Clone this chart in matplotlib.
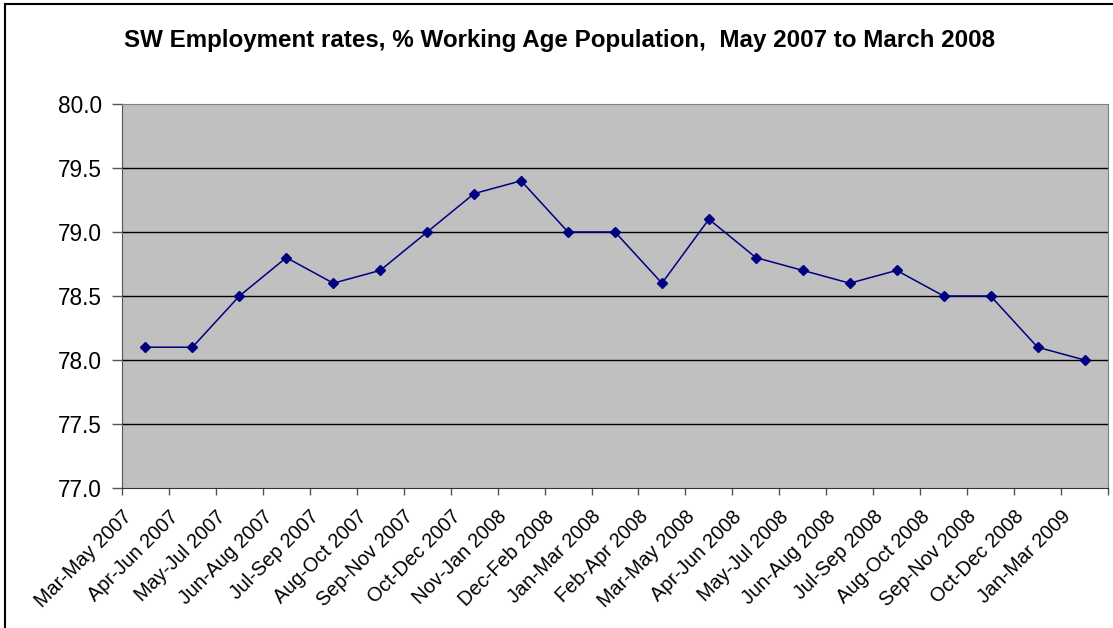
import matplotlib.pyplot as plt
from matplotlib.patches import Rectangle

plt.rcParams['font.family'] = ['Liberation Sans', 'DejaVu Sans']

# data
periods = ['Mar-May 2007', 'Apr-Jun 2007', 'May-Jul 2007', 'Jun-Aug 2007',
           'Jul-Sep 2007', 'Aug-Oct 2007', 'Sep-Nov 2007', 'Oct-Dec 2007',
           'Nov-Jan 2008', 'Dec-Feb 2008', 'Jan-Mar 2008', 'Feb-Apr 2008',
           'Mar-May 2008', 'Apr-Jun 2008', 'May-Jul 2008', 'Jun-Aug 2008',
           'Jul-Sep 2008', 'Aug-Oct 2008', 'Sep-Nov 2008', 'Oct-Dec 2008',
           'Jan-Mar 2009']
rates = [78.1, 78.1, 78.5, 78.8, 78.6, 78.7, 79.0, 79.3, 79.4, 79.0, 79.0,
         78.6, 79.1, 78.8, 78.7, 78.6, 78.7, 78.5, 78.5, 78.1, 78.0]
yticks = [77.0, 77.5, 78.0, 78.5, 79.0, 79.5, 80.0]

W, H = 1113, 628
fig = plt.figure(figsize=(W / 100, H / 100), dpi=100)
ax = fig.add_axes([122 / W, 1 - 488 / H, (1108 - 122) / W, (488 - 104) / H])
ax.set_facecolor('#C0C0C0')

n = len(periods)
xs = [i + 0.5 for i in range(n)]
ax.plot(xs, rates, color='#000080', lw=1.1, marker='D', ms=5, zorder=3)

ax.set_xlim(0, n)
ax.set_ylim(77.0, 80.0)
ax.set_yticks(yticks)
ax.set_yticklabels([f'{v:.1f}' for v in yticks], fontsize=16.3)
for v in yticks[1:-1]:
    ax.axhline(v, color='black', lw=1.0, zorder=1)

# ticks on category boundaries, labels at centres
ax.set_xticks(range(n + 1))
ax.set_xticklabels([''] * (n + 1))
ax.tick_params(axis='x', length=5, color='#555555', width=1)
ax.tick_params(axis='y', length=7, color='#555555', width=1, pad=7.5)
for x, lab in zip(xs, periods):
    ax.text(x - 0.36, 76.8, lab, rotation=45, ha='right', va='center',
            rotation_mode='anchor', fontsize=14.3, transform=ax.transData)

for s in ['top', 'right']:
    ax.spines[s].set_color('#808080')
ax.spines['left'].set_color('#555555')
ax.spines['bottom'].set_color('#333333')

fig.text(560 / W, 1 - 40 / H,
         'SW Employment rates, % Working Age Population,  May 2007 to March 2008',
         ha='center', va='center', fontsize=17.4, fontweight='bold')

fig.patches.append(Rectangle((5 / W, -0.05), 1.2, 1 - 4 / H + 0.05,
                             transform=fig.transFigure, fill=False,
                             edgecolor='black', lw=1.5))

fig.savefig('out.png', dpi=100)
